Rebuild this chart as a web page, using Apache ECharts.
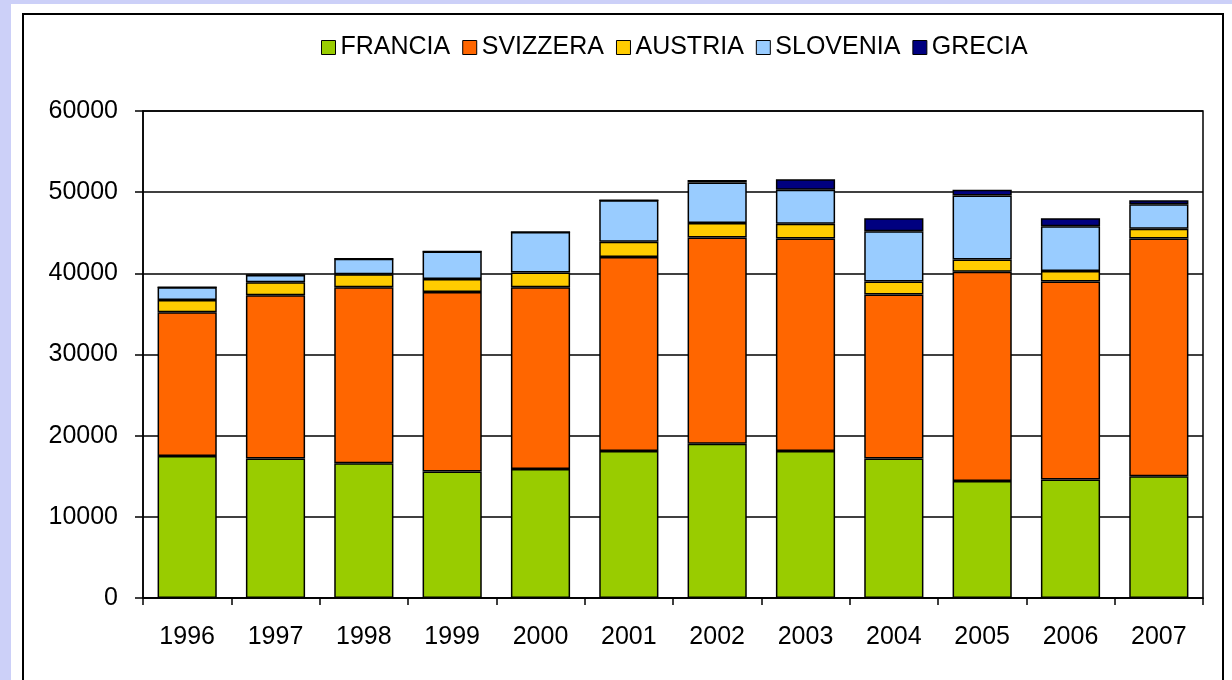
<!DOCTYPE html>
<html>
<head>
<meta charset="utf-8">
<script src="https://cdn.jsdelivr.net/npm/echarts@6/dist/echarts.min.js"></script>
<style>
  html, body { margin: 0; padding: 0; background: #ccd0f8; overflow: hidden; }
  .sheet { position: absolute; left: 11px; top: 4px; width: 1240px; height: 700px; background: #fff; }
  .frame { position: absolute; left: 22px; top: 13px; width: 1198px; height: 700px; border: 2px solid #000; }
  #chart { position: absolute; left: 0; top: 0; width: 1232px; height: 680px; }
</style>
</head>
<body>
<div class="sheet"></div>
<div class="frame"></div>
<div id="chart"></div>
<script>
const years = ['1996', '1997', '1998', '1999', '2000', '2001', '2002', '2003', '2004', '2005', '2006', '2007'];
const francia  = [17500, 17200, 16600, 15600, 15900, 18100, 19000, 18100, 17200, 14400, 14600, 15000];
const svizzera = [17700, 20100, 21700, 22100, 22400, 23900, 25400, 26200, 20200, 25800, 24400, 29300];
const austria  = [1500, 1600, 1600, 1600, 1800, 1900, 1800, 1800, 1600, 1500, 1300, 1200];
const slovenia = [1600, 900, 1900, 3400, 5000, 5100, 5000, 4200, 6200, 7900, 5500, 3000];
const grecia   = [0, 0, 0, 0, 0, 0, 300, 1300, 1600, 700, 1000, 500];

const myChart = echarts.init(document.getElementById('chart'));

const font = 'Liberation Sans, Arial, sans-serif';

const makeSeries = (name, data, color) => ({
  name,
  type: 'bar',
  stack: 'tot',
  data,
  barCategoryGap: '33%',
  itemStyle: {
    color,
    borderColor: '#000',
    borderWidth: 1.5
  }
})

const options = {
  animation: false,
  textStyle: { fontFamily: font },
  legend: {
    left: 316,
    top: 30,
    itemWidth: 14,
    itemHeight: 14,
    itemGap: 12,
    icon: 'rect',
    itemStyle: { borderColor: '#000', borderWidth: 1 },
    textStyle: { fontSize: 25, color: '#000', fontFamily: font, padding: [0, 0, 0, 0] }
  },
  grid: {
    left: 143,
    right: 29,
    top: 111,
    bottom: 82,
    show: true,
    backgroundColor: '#fff',
    borderColor: '#000',
    borderWidth: 1.5
  },
  xAxis: {
    type: 'category',
    data: years,
    axisLine: { lineStyle: { color: '#000', width: 1.5 } },
    axisTick: { show: true, length: 7, lineStyle: { color: '#000', width: 1.5 } },
    axisLabel: { color: '#000', fontSize: 25, margin: 27 }
  },
  yAxis: {
    type: 'value',
    min: 0,
    max: 60000,
    interval: 10000,
    axisLine: { show: true, lineStyle: { color: '#000', width: 1.5 } },
    axisTick: { show: true, length: 8, lineStyle: { color: '#000', width: 1.5 } },
    axisLabel: { color: '#000', fontSize: 25, margin: 25, formatter: (v) => String(v) },
    splitLine: { lineStyle: { color: '#000', width: 1.5 } }
  },
  series: [
    makeSeries('FRANCIA', francia, '#99cc00'),
    makeSeries('SVIZZERA', svizzera, '#ff6600'),
    makeSeries('AUSTRIA', austria, '#ffcc00'),
    makeSeries('SLOVENIA', slovenia, '#99ccff'),
    makeSeries('GRECIA', grecia, '#000080')
  ]
}
myChart.setOption(options)
</script>
</body>
</html>
